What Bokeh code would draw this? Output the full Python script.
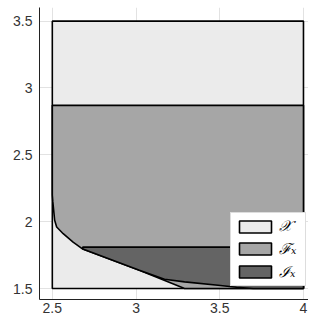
from bokeh.plotting import figure
from bokeh.models import Legend, LegendItem, FixedTicker
from bokeh.embed import file_html
from bokeh.resources import INLINE

# ---- data ----
X_bounds_x = [2.5, 4.0]
X_bounds_y = [1.5, 3.5]

F_x = [2.5, 2.5, 2.503, 2.514, 2.526, 2.565, 2.624, 2.682, 3.02, 3.29, 4.0, 4.0]
F_y = [2.87, 2.2, 2.15, 2.01, 1.96, 1.91, 1.847, 1.795, 1.636, 1.5, 1.5, 2.87]

I_x = [2.682, 4.0, 4.0, 3.7, 3.6, 3.49, 3.29, 3.17, 3.02, 2.682]
I_y = [1.81, 1.81, 1.5, 1.5, 1.51, 1.525, 1.55, 1.57, 1.636, 1.795]

x_ticks = [2.5, 3.0, 3.5, 4.0]
x_tick_labels = ["2.5", "3", "3.5", "4"]
y_ticks = [1.5, 2.0, 2.5, 3.0, 3.5]
y_tick_labels = ["1.5", "2", "2.5", "3", "3.5"]

legend_labels = ["\U0001D4B3", "\u2131\u2093", "\u2110\u2093"]

c_light = "#ebebeb"
c_mid = "#a6a6a6"
c_dark = "#646464"

p = figure(width=308, height=319, x_range=(2.4235, 4.03), y_range=(1.418, 3.602),
           output_backend="svg", toolbar_location=None,
           min_border_left=39, min_border_right=0, min_border_top=7, min_border_bottom=20)
p.outline_line_color = None
p.background_fill_color = "white"

r_X = p.quad(left=X_bounds_x[0], right=X_bounds_x[1], bottom=X_bounds_y[0], top=X_bounds_y[1],
             fill_color=c_light, line_color="black", line_width=1.6)
r_F = p.patch(F_x, F_y, fill_color=c_mid, line_color="black", line_width=1.6)
r_I = p.patch(I_x, I_y, fill_color=c_dark, line_color="black", line_width=1.6)

for ax, ticks, labels in ((p.xaxis, x_ticks, x_tick_labels), (p.yaxis, y_ticks, y_tick_labels)):
    ax.ticker = FixedTicker(ticks=ticks)
    ax.major_label_overrides = {t: l for t, l in zip(ticks, labels)}
    ax.major_tick_in = 0
    ax.major_tick_out = 0
    ax.minor_tick_in = 0
    ax.minor_tick_out = 0
    ax.axis_line_color = "#222222"
    ax.axis_line_width = 1
    ax.major_label_text_font = "Liberation Sans"
    ax.major_label_text_font_size = "14px"
    ax.major_label_text_color = "#333333"
p.yaxis.major_label_standoff = 7
p.xaxis.major_label_standoff = 3

p.xgrid.ticker = FixedTicker(ticks=x_ticks)
p.ygrid.ticker = FixedTicker(ticks=y_ticks)
p.grid.grid_line_color = "#e2e2e2"
p.grid.grid_line_width = 1

legend = Legend(items=[LegendItem(label=m, renderers=[r]) for m, r in zip(legend_labels, (r_X, r_F, r_I))],
                location=(191, 13), glyph_width=40, glyph_height=15,
                label_width=22, label_height=16, padding=4, spacing=3, label_standoff=4,
                label_text_font="DejaVu Serif", label_text_font_style="italic",
                label_text_font_size="15px", label_text_color="black",
                border_line_color="#bbbbbb", border_line_width=1,
                background_fill_color="white", background_fill_alpha=1.0)
p.add_layout(legend, "center")

open("out.html", "w").write(file_html(p, INLINE))
